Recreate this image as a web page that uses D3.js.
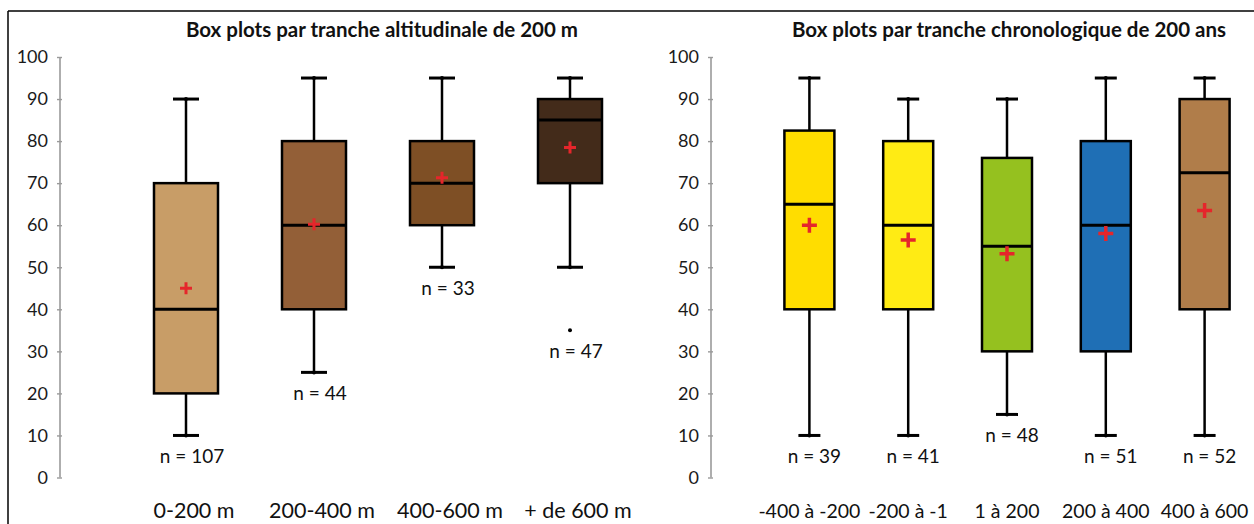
<!DOCTYPE html>
<html>
<head>
<meta charset="utf-8">
<script src="https://cdn.jsdelivr.net/npm/d3@7"></script>
<style>
  html, body { margin: 0; padding: 0; background: #fff; }
  svg { display: block; font-family: Lato, "Open Sans", sans-serif; }
</style>
</head>
<body>
<svg id="chart" width="1254" height="524"></svg>
<script>
// ---------- DATA ----------
const altTitle = "Box plots par tranche altitudinale de 200 m";
const altCategories = ["0-200 m", "200-400 m", "400-600 m", "+ de 600 m"];
const altLow      = [10, 25, 50, 50];
const altQ1       = [20, 40, 60, 70];
const altMedian   = [40, 60, 70, 85];
const altQ3       = [70, 80, 80, 90];
const altHigh     = [90, 95, 95, 95];
const altMean     = [45, 60.2, 71.3, 78.5];
const altN        = [107, 44, 33, 47];
const altOutliers = [[], [], [], [35]];
const altColors   = ["#C89D67", "#935F37", "#7E4F25", "#432B1A"];

const chrTitle = "Box plots par tranche chronologique de 200 ans";
const chrCategories = ["-400 à -200", "-200 à -1", "1 à 200", "200 à 400", "400 à 600"];
const chrLow      = [10, 10, 15, 10, 10];
const chrQ1       = [40, 40, 30, 30, 40];
const chrMedian   = [65, 60, 55, 60, 72.5];
const chrQ3       = [82.5, 80, 76, 80, 90];
const chrHigh     = [95, 90, 90, 95, 95];
const chrMean     = [60, 56.5, 53.2, 58, 63.5];
const chrN        = [39, 41, 48, 51, 52];
const chrOutliers = [[], [], [], [], []];
const chrColors   = ["#FFDD00", "#FFEB14", "#95C11F", "#1F6FB5", "#B07D4A"];

const yTicks = [0, 10, 20, 30, 40, 50, 60, 70, 80, 90, 100];

// ---------- DRAW ----------
const svg = d3.select("#chart");

// frame
svg.append("line").attr("x1", 8).attr("x2", 1254).attr("y1", 11).attr("y2", 11)
  .attr("stroke", "#000").attr("stroke-width", 1.5);
svg.append("line").attr("x1", 8).attr("x2", 8).attr("y1", 11).attr("y2", 524)
  .attr("stroke", "#000").attr("stroke-width", 1.5);

const y = d3.scaleLinear().domain([0, 100]).range([477.5, 57]);

function panel(cfg) {
  const g = svg.append("g");
  const x = d3.scaleBand().domain(cfg.cats).range(cfg.range)
    .paddingInner(cfg.padIn).paddingOuter(cfg.padIn / 2);
  const bw = x.bandwidth();

  // title
  g.append("text").attr("x", cfg.titleX).attr("y", 37)
    .attr("text-anchor", "middle").attr("font-weight", "bold")
    .attr("font-size", 20.5).attr("fill", "#111").text(cfg.title);

  // y axis
  const ax = g.append("g").attr("transform", `translate(${cfg.axisX},0)`)
    .call(d3.axisLeft(y).tickValues(yTicks).tickSize(3).tickPadding(9).tickFormat(d3.format("d")));
  ax.select(".domain").attr("stroke", "#9a9a9a").attr("stroke-width", 1.6).attr("d", `M0,${y(0)}V${y(100)}`);
  ax.selectAll(".tick line").attr("stroke", "#9a9a9a").attr("stroke-width", 1.4).attr("x1", 2);
  ax.selectAll(".tick text").attr("font-size", 18).attr("fill", "#1a1a1a")
    .attr("font-family", "Lato, sans-serif");

  cfg.cats.forEach((c, i) => {
    const cx = x(c) + bw / 2;
    const capHalf = cfg.capHalf;
    // whiskers
    g.append("line").attr("x1", cx).attr("x2", cx).attr("y1", y(cfg.high[i])).attr("y2", y(cfg.q3[i]))
      .attr("stroke", "#000").attr("stroke-width", 2.5);
    g.append("line").attr("x1", cx).attr("x2", cx).attr("y1", y(cfg.q1[i])).attr("y2", y(cfg.low[i]))
      .attr("stroke", "#000").attr("stroke-width", 2.5);
    [cfg.high[i], cfg.low[i]].forEach(v => {
      g.append("line").attr("x1", cx - capHalf).attr("x2", cx + capHalf).attr("y1", y(v)).attr("y2", y(v))
        .attr("stroke", "#000").attr("stroke-width", 3);
      g.append("circle").attr("cx", cx).attr("cy", y(v)).attr("r", 2).attr("fill", "#000");
    });
    // box
    g.append("rect").attr("x", x(c)).attr("width", bw)
      .attr("y", y(cfg.q3[i])).attr("height", y(cfg.q1[i]) - y(cfg.q3[i]))
      .attr("fill", cfg.colors[i]).attr("stroke", "#000").attr("stroke-width", 2.5);
    // median
    g.append("line").attr("x1", x(c)).attr("x2", x(c) + bw).attr("y1", y(cfg.med[i])).attr("y2", y(cfg.med[i]))
      .attr("stroke", "#000").attr("stroke-width", 3);
    // mean plus
    const my = y(cfg.mean[i]), ps = cfg.plus;
    g.append("path").attr("d", `M${cx - ps},${my}H${cx + ps}M${cx},${my - ps}V${my + ps}`)
      .attr("stroke", "#E5262B").attr("stroke-width", cfg.plusW).attr("fill", "none");
    // outliers
    cfg.out[i].forEach(v => {
      g.append("circle").attr("cx", cx).attr("cy", y(v)).attr("r", 2).attr("fill", "#000");
    });
    // n label
    const lowest = d3.min([cfg.low[i], ...cfg.out[i]]);
    g.append("text").attr("x", cx + cfg.nShift).attr("y", y(lowest) + 22 + 6)
      .attr("text-anchor", "middle").attr("font-size", 19).attr("fill", "#111")
      .text("n = " + cfg.n[i]);
    // category label
    g.append("text").attr("x", cx + cfg.labShift).attr("y", 518)
      .attr("text-anchor", "middle").attr("font-size", cfg.labSize).attr("fill", "#111")
      .text(c);
  });
}

panel({
  title: altTitle, titleX: 382, axisX: 60,
  cats: altCategories, low: altLow, q1: altQ1, med: altMedian, q3: altQ3, high: altHigh,
  mean: altMean, n: altN, out: altOutliers, colors: altColors,
  range: [122, 634], padIn: 0.5, capHalf: 13, plus: 6, plusW: 3,
  nShift: 6, labShift: 8, labSize: 21.5
});

panel({
  title: chrTitle, titleX: 1009, axisX: 711,
  cats: chrCategories, low: chrLow, q1: chrQ1, med: chrMedian, q3: chrQ3, high: chrHigh,
  mean: chrMean, n: chrN, out: chrOutliers, colors: chrColors,
  range: [760, 1254], padIn: 0.494, capHalf: 11, plus: 7.5, plusW: 3.5,
  nShift: 5, labShift: 0, labSize: 19.5
});
</script>
</body>
</html>
